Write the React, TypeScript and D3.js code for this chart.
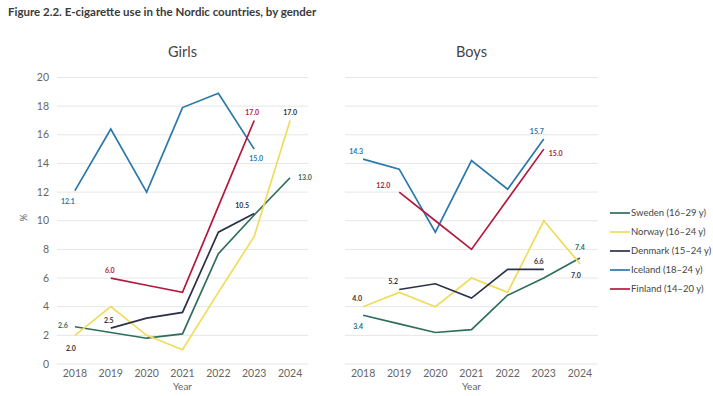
import React from 'react';
import * as d3 from 'd3';

// data
const years = ['2018', '2019', '2020', '2021', '2022', '2023', '2024'];
const yTicks = [0, 2, 4, 6, 8, 10, 12, 14, 16, 18, 20];
const seriesNames = ['Sweden (16–29 y)', 'Norway (16–24 y)', 'Denmark (15–24 y)', 'Iceland (18–24 y)', 'Finland (14–20 y)'];

const girlsSweden = [2.6, 2.2, 1.8, 2.1, 7.7, 10.4, 13.0];
const girlsNorway = [2.0, 4.0, 2.0, 1.0, 5.0, 8.9, 17.0];
const girlsDenmark = [null, 2.5, 3.2, 3.6, 9.2, 10.5, null];
const girlsIceland = [12.1, 16.4, 12.0, 17.9, 18.9, 15.0, null];
const girlsFinland = [null, 6.0, 5.5, 5.0, 11.0, 17.0, null];

const boysSweden = [3.4, 2.8, 2.2, 2.4, 4.8, 6.0, 7.4];
const boysNorway = [4.0, 5.0, 4.0, 6.0, 5.0, 10.0, 7.0];
const boysDenmark = [null, 5.2, 5.6, 4.6, 6.6, 6.6, null];
const boysIceland = [14.3, 13.6, 9.2, 14.2, 12.2, 15.7, null];
const boysFinland = [null, 12.0, 10.0, 8.0, 11.5, 15.0, null];

// styling
const lineColors = ['#2f6e5c', '#f0dc5a', '#2b3246', '#2b78ab', '#b3193f'];
const labelColors = ['#2f6e5c', '#333333', '#2b3246', '#2b78ab', '#b3193f'];
const font = 'Lato, sans-serif';

type Lbl = { s: number; i: number; dx: number; dy: number; anchor?: string };

// value labels: series index, year index, offset from point
const girlsLabels: Lbl[] = [
  { s: 0, i: 0, dx: -12, dy: -1, anchor: 'middle' },
  { s: 0, i: 6, dx: 8, dy: 0, anchor: 'start' },
  { s: 1, i: 0, dx: -4, dy: 13, anchor: 'middle' },
  { s: 1, i: 6, dx: 0, dy: -8, anchor: 'middle' },
  { s: 2, i: 1, dx: -2, dy: -8, anchor: 'middle' },
  { s: 2, i: 5, dx: -12, dy: -8, anchor: 'middle' },
  { s: 3, i: 0, dx: -7, dy: 11, anchor: 'middle' },
  { s: 3, i: 5, dx: 2, dy: 9, anchor: 'middle' },
  { s: 4, i: 1, dx: -1, dy: -8, anchor: 'middle' },
  { s: 4, i: 5, dx: -2, dy: -8, anchor: 'middle' },
];
const boysLabels: Lbl[] = [
  { s: 0, i: 0, dx: -5, dy: 11, anchor: 'middle' },
  { s: 0, i: 6, dx: 0, dy: -10, anchor: 'middle' },
  { s: 1, i: 0, dx: -6, dy: -8, anchor: 'middle' },
  { s: 1, i: 6, dx: -4, dy: 12, anchor: 'middle' },
  { s: 2, i: 1, dx: -6, dy: -8, anchor: 'middle' },
  { s: 2, i: 5, dx: -5, dy: -8, anchor: 'middle' },
  { s: 3, i: 0, dx: -7, dy: -8, anchor: 'middle' },
  { s: 3, i: 5, dx: -7, dy: -8, anchor: 'middle' },
  { s: 4, i: 1, dx: -9, dy: -7, anchor: 'end' },
  { s: 4, i: 5, dx: 5, dy: 4, anchor: 'start' },
];

const W = 713;
const H = 396;
const y = d3.scaleLinear().domain([0, 20]).range([364, 77.5]);

function Panel({ title, series, labels, x0, x1, showY }: { title: string; series: (number | null)[][]; labels: Lbl[]; x0: number; x1: number; showY: boolean }) {
  const x = d3.scalePoint<string>().domain(years).range([x0, x1]).padding(0.5);
  const line = d3
    .line<number | null>()
    .defined(d => d !== null)
    .x((_, i) => x(years[i]) as number)
    .y(d => y(d as number));
  const cx = (x0 + x1) / 2;
  return (
    <g>
      <text x={cx} y={57} textAnchor="middle" fontSize={14.5} fill="#444" fontFamily={font}>{title}</text>
      {yTicks.map(t => (
        <g key={t}>
          <line x1={x0} x2={x1} y1={y(t)} y2={y(t)} stroke="#e6e6e6" strokeWidth={1} />
          {showY && (
            <text x={x0 - 8} y={y(t)} dy="0.35em" textAnchor="end" fontSize={10.5} fill="#666" fontFamily={font}>{t}</text>
          )}
        </g>
      ))}
      {years.map(yr => (
        <text key={yr} x={x(yr)} y={377} textAnchor="middle" fontSize={10.5} fill="#666" fontFamily={font}>{yr}</text>
      ))}
      <text x={cx} y={390} textAnchor="middle" fontSize={10} fill="#666" fontFamily={font}>Year</text>
      {series.map((s, k) => (
        <path key={k} d={line(s) || ''} fill="none" stroke={lineColors[k]} strokeWidth={1.7} />
      ))}
      {labels.map((l, k) => {
        const v = series[l.s][l.i] as number;
        return (
          <text key={k} x={(x(years[l.i]) as number) + l.dx} y={y(v) + l.dy} dy="0.35em" textAnchor={l.anchor || 'middle'}
            fontSize={7} fontWeight="bold" fill={labelColors[l.s]} fontFamily={font}>{v.toFixed(1)}</text>
        );
      })}
    </g>
  );
}

export default function App() {
  return (
    <svg width={W} height={H} style={{ position: 'absolute', left: 0, top: 0, background: '#fff' }}>
      <rect width={W} height={H} fill="#fff" />
      <text x={8} y={16} fontSize={11.5} fontWeight="bold" fill="#3a3a3a" fontFamily={font}>
        Figure 2.2. E-cigarette use in the Nordic countries, by gender
      </text>
      <text transform={`translate(27,${y(10) - 3}) rotate(-90)`} textAnchor="middle" fontSize={9.5} fill="#666" fontFamily={font}>%</text>
      <Panel title="Girls" series={[girlsSweden, girlsNorway, girlsDenmark, girlsIceland, girlsFinland]} labels={girlsLabels} x0={57} x1={308} showY />
      <Panel title="Boys" series={[boysSweden, boysNorway, boysDenmark, boysIceland, boysFinland]} labels={boysLabels} x0={345} x1={598} showY={false} />
      {seriesNames.map((n, k) => (
        <g key={n} transform={`translate(610,${213 + k * 19})`}>
          <line x1={0} x2={20} y1={0} y2={0} stroke={lineColors[k]} strokeWidth={1.7} />
          <text x={21} y={0} dy="0.35em" fontSize={9.5} fill="#444" fontFamily={font}>{n}</text>
        </g>
      ))}
    </svg>
  );
}
